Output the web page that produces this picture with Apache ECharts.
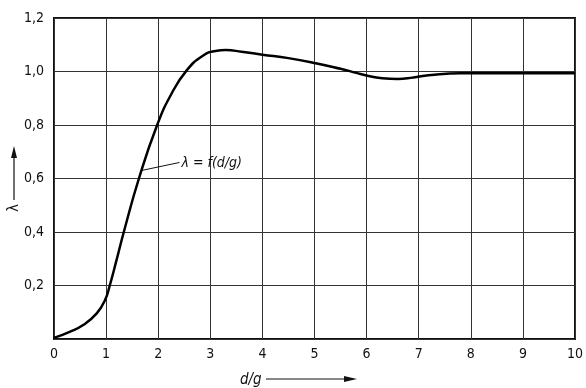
<!DOCTYPE html>
<html>
<head>
<meta charset="utf-8">
<script src="https://cdn.jsdelivr.net/npm/echarts@6/dist/echarts.min.js"></script>
<style>
html,body{margin:0;padding:0;background:#fff;}
#main{width:586px;height:388px;}
</style>
</head>
<body>
<div id="main"></div>
<script>
// d/g values and lambda readings along the curve
var dg = [0, 0.3, 0.56, 0.82, 0.98, 1.07, 1.2, 1.34, 1.63, 1.98, 2.25, 2.55, 2.85, 3.1, 3.3, 3.6, 4, 4.5, 5, 5.5, 5.8, 6, 6.3, 6.6, 6.9, 7.3, 7.8, 9, 10];
var lambda = [0.004, 0.027, 0.052, 0.096, 0.146, 0.2, 0.295, 0.4, 0.6, 0.8, 0.915, 1.005, 1.058, 1.077, 1.08, 1.074, 1.063, 1.05, 1.032, 1.01, 0.995, 0.985, 0.975, 0.972, 0.978, 0.988, 0.993, 0.993, 0.993];
var xTicks = [0, 1, 2, 3, 4, 5, 6, 7, 8, 9, 10];
var yTicks = [0.2, 0.4, 0.6, 0.8, 1.0, 1.2];
var curveLabel = 'λ = f(d/g)';
var labelAt = [1.68, 0.63];

var font = '"DejaVu Sans Condensed", "Liberation Sans Narrow", sans-serif';
var pts = dg.map(function (d, i) { return [d, lambda[i]]; });

var chart = echarts.init(document.getElementById('main'));
var option = {
	animation: false,
	grid: {left: 54, right: 9, top: 18, bottom: 49, show: true, borderColor: '#111', borderWidth: 2},
	xAxis: {
		type: 'value', min: 0, max: 10, interval: 1,
		axisLine: {show: false},
		axisTick: {show: false},
		axisLabel: {color: '#111', fontSize: 14, fontFamily: font, margin: 8,
			formatter: function (v) { return xTicks.indexOf(v) >= 0 ? String(v) : ''; }},
		splitLine: {show: true, lineStyle: {color: '#333', width: 1}}
	},
	yAxis: {
		type: 'value', min: 0, max: 1.2, interval: 0.2,
		axisLine: {show: false},
		axisTick: {show: false},
		axisLabel: {color: '#111', fontSize: 14, fontFamily: font, margin: 10,
			formatter: function (v) {
				var r = Math.round(v * 10) / 10;
				return yTicks.indexOf(r) >= 0 ? r.toFixed(1).replace('.', ',') : '';
			}},
		splitLine: {show: true, lineStyle: {color: '#333', width: 1}}
	},
	series: [{
		type: 'line', data: pts, smooth: 0.5, symbol: 'none',
		lineStyle: {color: '#000', width: 2.5}
	}]
};
chart.setOption(option);

var p = chart.convertToPixel({gridIndex: 0}, labelAt);
chart.setOption({
	graphic: [
		{type: 'line', shape: {x1: p[0], y1: p[1], x2: p[0] + 38, y2: p[1] - 8}, style: {stroke: '#111', lineWidth: 1}},
		{type: 'text', x: p[0] + 40, y: p[1] - 7, style: {text: curveLabel, font: 'italic 14px ' + font, fill: '#111', verticalAlign: 'middle'}},
		// x axis name with arrow
		{type: 'text', x: 240, y: 380, style: {text: 'd/g', font: 'italic 15px ' + font, fill: '#111', verticalAlign: 'middle'}},
		{type: 'line', shape: {x1: 266, y1: 379, x2: 346, y2: 379}, style: {stroke: '#111', lineWidth: 1.2}},
		{type: 'polygon', shape: {points: [[344, 376], [357, 379], [344, 382]]}, style: {fill: '#111'}},
		// y axis name with arrow
		{type: 'text', x: 14, y: 208, rotation: Math.PI / 2, style: {text: 'λ', font: '15px ' + font, fill: '#111', align: 'center', verticalAlign: 'middle'}},
		{type: 'line', shape: {x1: 14, y1: 200, x2: 14, y2: 156}, style: {stroke: '#111', lineWidth: 1.2}},
		{type: 'polygon', shape: {points: [[11, 158], [14, 146], [17, 158]]}, style: {fill: '#111'}}
	]
});
window.addEventListener('resize', chart.resize);
</script>
</body>
</html>
